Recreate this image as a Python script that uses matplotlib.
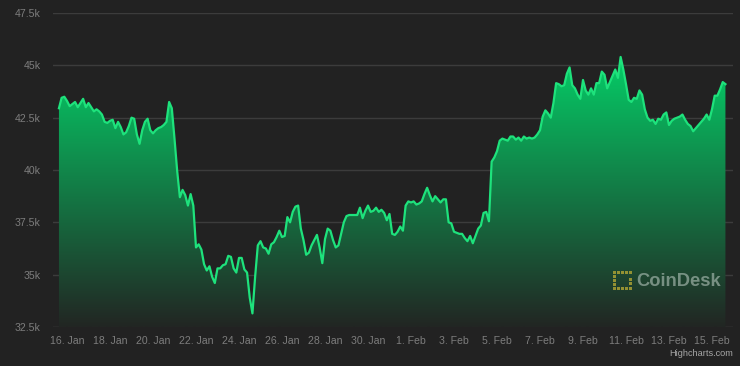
import numpy as np
import pandas as pd
import matplotlib
matplotlib.use("Agg")
import matplotlib.pyplot as plt
import matplotlib.dates as mdates
from matplotlib.patches import Rectangle

# ---------------- data ----------------
start_time = "2022-01-15 15:00"
step_hours = 3
# BTC price (thousand USD), 3-hourly
price_k = [
    42.95, 43.45, 43.5, 43.3, 43.05, 43.15, 43.25, 43.0, 43.2, 43.4,
    43.0, 43.2, 43.0, 42.8, 42.9, 42.8, 42.65, 42.3, 42.25, 42.35,
    42.4, 42.0, 42.3, 42.05, 41.7, 41.8, 42.1, 42.5, 42.45, 41.7,
    41.25, 41.9, 42.3, 42.45, 41.9, 41.75, 41.9, 42.0, 42.05, 42.15,
    42.3, 43.25, 42.95, 41.5, 39.95, 38.7, 39.05, 38.8, 38.3, 38.85,
    38.3, 36.3, 36.45, 36.2, 35.5, 35.2, 35.4, 34.9, 34.6, 35.3,
    35.3, 35.45, 35.5, 35.9, 35.85, 35.3, 35.1, 35.8, 35.8, 35.25,
    35.1, 33.9, 33.15, 34.9, 36.4, 36.6, 36.3, 36.25, 36.0, 36.45,
    36.55, 36.8, 37.1, 36.8, 36.85, 37.75, 37.5, 38.0, 38.25, 38.3,
    37.2, 36.65, 35.95, 36.05, 36.4, 36.65, 36.9, 36.3, 35.55, 36.7,
    37.2, 37.1, 36.65, 36.3, 36.4, 36.95, 37.5, 37.8, 37.85, 37.85,
    37.85, 37.85, 38.2, 37.7, 38.05, 38.3, 38.0, 38.05, 38.2, 38.0,
    38.1, 37.95, 37.6, 37.9, 36.95, 36.9, 37.05, 37.3, 37.1, 38.3,
    38.5, 38.45, 38.5, 38.35, 38.4, 38.5, 38.85, 39.15, 38.8, 38.5,
    38.75, 38.6, 38.45, 38.6, 38.6, 37.5, 37.45, 37.05, 37.0, 36.95,
    36.95, 36.75, 36.6, 36.85, 36.5, 36.85, 37.2, 37.35, 37.95, 38.0,
    37.55, 40.4, 40.6, 40.9, 41.4, 41.5, 41.45, 41.4, 41.6, 41.6,
    41.45, 41.55, 41.4, 41.6, 41.5, 41.55, 41.5, 41.55, 41.7, 41.9,
    42.55, 42.85, 42.7, 42.5, 43.2, 44.15, 44.1, 44.0, 44.05, 44.6,
    44.9, 44.05, 43.9, 43.6, 43.4, 44.3, 43.8, 43.6, 43.9, 43.6,
    44.15, 44.15, 44.7, 44.55, 43.9, 44.2, 44.5, 44.8, 44.4, 45.4,
    44.8, 44.1, 43.35, 43.25, 43.45, 43.4, 43.8, 43.6, 42.9, 42.5,
    42.35, 42.4, 42.2, 42.45, 42.4, 42.65, 42.75, 42.15, 42.35, 42.45,
    42.5, 42.55, 42.65, 42.4, 42.2, 42.1, 41.85, 42.0, 42.15, 42.3,
    42.45, 42.65, 42.4, 42.9, 43.55, 43.55, 43.85, 44.2, 44.1,
]
y_ticks = [32.5, 35.0, 37.5, 40.0, 42.5, 45.0, 47.5]
y_tick_labels = ["32.5k", "35k", "37.5k", "40k", "42.5k", "45k", "47.5k"]
x_tick_dates = ["2022-01-16", "2022-01-18", "2022-01-20", "2022-01-22",
                "2022-01-24", "2022-01-26", "2022-01-28", "2022-01-30",
                "2022-02-01", "2022-02-03", "2022-02-05", "2022-02-07",
                "2022-02-09", "2022-02-11", "2022-02-13", "2022-02-15"]
x_tick_labels = ["16. Jan", "18. Jan", "20. Jan", "22. Jan", "24. Jan",
                 "26. Jan", "28. Jan", "30. Jan", "1. Feb", "3. Feb",
                 "5. Feb", "7. Feb", "9. Feb", "11. Feb", "13. Feb", "15. Feb"]

# ---------------- style ----------------
BG = "#222222"
GRID = "#3c3c3c"
TICK = "#7d7d7d"
LINE = "#1ee27c"
FONT = ["Liberation Sans", "DejaVu Sans"]
plt.rcParams["font.family"] = FONT

times = pd.date_range(start=start_time, periods=len(price_k), freq=f"{step_hours}h")
xn = mdates.date2num(times.to_pydatetime())
y = np.array(price_k)

fig = plt.figure(figsize=(7.4, 3.66), dpi=100, facecolor=BG)
W, H = 740, 366
ax = fig.add_axes([53 / W, 39 / H, 680 / W, 314 / H])
ax.set_facecolor(BG)

x0 = mdates.date2num(pd.Timestamp("2022-01-16")) - 14 / 21.5
x1 = mdates.date2num(pd.Timestamp("2022-01-16")) + 666 / 21.5
ax.set_xlim(x0, x1)
ax.set_ylim(32.5, 47.5)

for t in y_ticks:
    ax.axhline(t, color=GRID if t != 32.5 else "#4a4a4a", lw=1.0, zorder=0.5)

# gradient fill
n = 256
top = np.array([0, 232, 114]) / 255.0
bot = np.array([34, 38, 35]) / 255.0
frac = np.linspace(0, 1, n)[:, None]
cols = top[None, :] * (1 - frac) + bot[None, :] * frac
grad = np.dstack([cols[:, 0:1], cols[:, 1:2], cols[:, 2:3], np.ones((n, 1))])
im = ax.imshow(grad, extent=[x0, x1, 32.5, 47.5], aspect="auto",
               origin="upper", zorder=1, interpolation="bilinear")
poly = ax.fill_between(xn, y, 32.5, facecolor="none", edgecolor="none")
im.set_clip_path(poly.get_paths()[0], transform=ax.transData)
ax.plot(xn, y, color=LINE, lw=1.6, zorder=3, solid_joinstyle="round")

ax.set_yticks(y_ticks)
ax.set_yticklabels(y_tick_labels)
ax.set_xticks([mdates.date2num(pd.Timestamp(d)) for d in x_tick_dates])
ax.set_xticklabels(x_tick_labels)
ax.tick_params(axis="both", length=0, colors=TICK, labelsize=7.6)
ax.tick_params(axis="y", pad=9)
ax.tick_params(axis="x", pad=6.5)
for s in ax.spines.values():
    s.set_visible(False)

# CoinDesk watermark
fig.text(636 / W, 1 - 282 / H, "CoinDesk", color="#e6f0ea", alpha=0.45,
         fontsize=13.2, fontweight="bold", ha="left", va="center", family=FONT)
logo_c = "#a9a034"
sq = 3.4
cells = [(613, 271), (617, 271), (621, 271), (625, 271), (629, 271),
         (613, 275), (613, 279), (613, 283), (613, 287),
         (617, 287), (621, 287), (625, 287), (629, 287),
         (629, 278), (629, 282)]
for (px, py) in cells:
    fig.patches.append(Rectangle((px / W, 1 - (py + sq) / H), sq / W, sq / H,
                                 transform=fig.transFigure, facecolor=logo_c,
                                 edgecolor="none", alpha=0.85))

fig.text(733 / W, 1 - 354 / H, "Highcharts.com", color="#a6a6a6",
         fontsize=6.6, ha="right", va="center", family=FONT)

fig.savefig("out.png", dpi=100, facecolor=BG)
